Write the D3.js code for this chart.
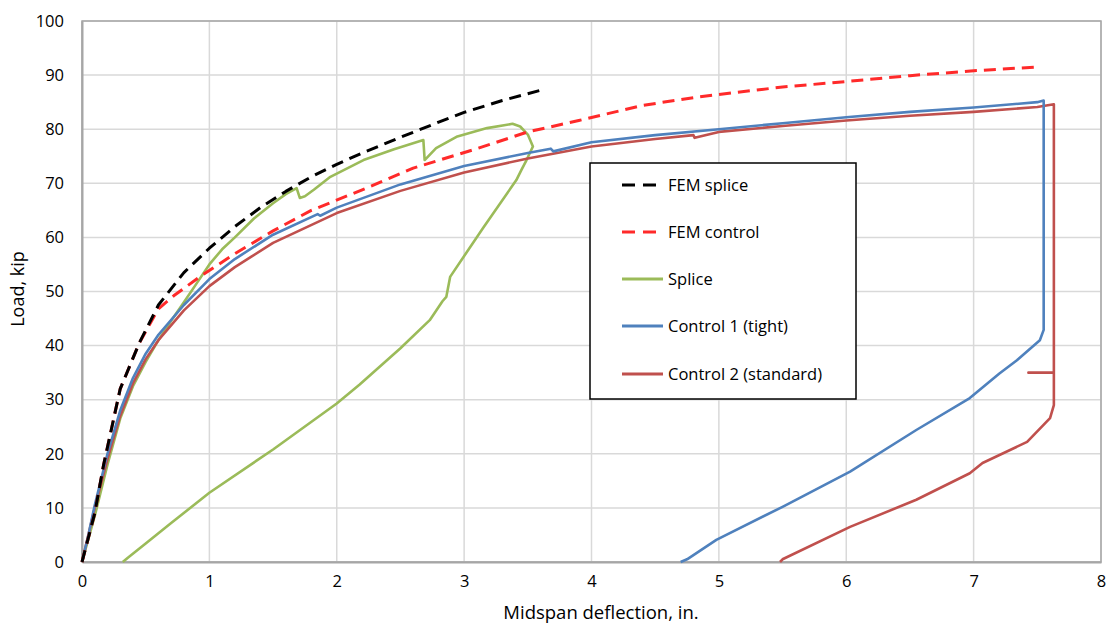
<!DOCTYPE html>
<html>
<head>
<meta charset="utf-8">
<script src="https://cdn.jsdelivr.net/npm/d3@7"></script>
<style>
  body { margin: 0; background: #fff; }
  text { font-family: "Open Sans", sans-serif; }
</style>
</head>
<body>
<svg width="1109" height="625"></svg>
<script>
// data: [deflection in., load kip]
const femSplice = [[0,0],[0.1,9],[0.17,18],[0.3,32],[0.45,40.5],[0.6,47.5],[0.8,53.5],[1.0,58],[1.2,62],
  [1.4,65.5],[1.6,68.5],[1.8,71.2],[2.0,73.5],[2.2,75.6],[2.5,78.5],[2.8,81.3],[3.0,83.1],[3.3,85.3],[3.6,87.2]];

const femControl = [[0,0],[0.1,9],[0.17,18],[0.3,32],[0.45,40.5],[0.6,46.8],[0.72,49.2],[0.93,52.8],[1.2,57],
  [1.5,61.2],[1.8,65],[2.2,68.8],[2.6,72.8],[3.1,76.4],[3.5,79.5],[3.9,81.6],[4.4,84.4],[4.85,86],[5.5,87.8],
  [6.0,88.8],[6.5,89.9],[7.0,90.8],[7.5,91.5]];

const splice = [[0,0],[0.1,8.5],[0.2,18],[0.3,26.5],[0.4,32.5],[0.5,37],[0.6,41],[0.7,44.6],[0.8,48],
  [0.9,51.5],[1.0,55],[1.1,57.8],[1.2,60],[1.35,63.5],[1.5,66.3],[1.6,68],[1.685,69.1],[1.71,67.3],
  [1.75,67.6],[1.82,68.8],[1.95,71.2],[2.21,74.3],[2.45,76.3],[2.68,78],[2.69,74.3],[2.78,76.5],[2.94,78.6],
  [3.18,80.2],[3.38,81],[3.44,80.5],[3.5,79],[3.54,76.8],[3.49,74.3],[3.45,72.5],[3.41,70.6],[3.15,61.8],
  [2.89,52.7],[2.86,49],[2.83,48.2],[2.73,44.7],[2.5,39.5],[2.18,32.8],[2.0,29.3],[1.5,20.8],[1.0,12.8],
  [0.7,7.2],[0.5,3.4],[0.36,0.8],[0.32,0]];

const control1 = [[0,0],[0.05,5],[0.1,10.5],[0.2,20],[0.3,28],[0.4,34],[0.5,38.5],[0.6,42],[0.8,47.5],
  [1.0,52.3],[1.2,56],[1.5,60.5],[1.85,64.3],[1.87,64],[2.0,65.5],[2.5,69.8],[3.0,73.2],[3.5,75.6],
  [3.68,76.4],[3.7,75.9],[4.0,77.6],[4.5,78.9],[5.0,80],[5.5,81.1],[6.0,82.2],[6.5,83.2],[7.0,84],[7.5,85],
  [7.55,85.3],[7.55,42.9],[7.52,41],[7.34,37.3],[7.2,34.8],[6.97,30.3],[6.55,24.4],[6.03,16.7],[5.5,10.2],
  [4.98,4.1],[4.75,0.5],[4.7,0]];

const control2 = [[0,0],[0.1,10],[0.2,19],[0.3,27],[0.4,33],[0.5,37.5],[0.6,41],[0.8,46.5],[1.0,51],
  [1.2,54.5],[1.5,59],[2.0,64.5],[2.5,68.6],[3.0,72],[3.5,74.6],[4.0,76.8],[4.5,78.2],[4.8,78.9],[4.81,78.4],
  [5.0,79.5],[5.5,80.6],[6.0,81.6],[6.5,82.5],[7.0,83.2],[7.5,84.1],[7.63,84.6],[7.63,35],[7.43,35],[7.63,35],
  [7.63,29],[7.6,26.6],[7.42,22.2],[7.07,18.3],[6.97,16.4],[6.55,11.5],[6.03,6.5],[5.5,0.5],[5.48,0]];

const seriesNames = ["FEM splice", "FEM control", "Splice", "Control 1 (tight)", "Control 2 (standard)"];
const seriesData = [femSplice, femControl, splice, control1, control2];
const seriesColors = ["#000000", "#ff2a2a", "#9bbb59", "#4f81bd", "#c0504d"];
const seriesDash = ["12,7", "12,7", null, null, null];
const drawOrder = [2, 4, 3, 1, 0];

const xTicks = [0, 1, 2, 3, 4, 5, 6, 7, 8];
const yTicks = [0, 10, 20, 30, 40, 50, 60, 70, 80, 90, 100];

const svg = d3.select("svg");
const plotLeft = 82, plotRight = 1101, plotTop = 21, plotBottom = 562;

const x = d3.scaleLinear().domain([0, 8]).range([plotLeft, plotRight]);
const y = d3.scaleLinear().domain([0, 100]).range([plotBottom, plotTop]);

// gridlines
svg.append("g")
  .selectAll("line")
  .data(xTicks)
  .enter().append("line")
  .attr("x1", d => x(d)).attr("x2", d => x(d))
  .attr("y1", plotTop).attr("y2", plotBottom)
  .attr("stroke", "#d9d9d9").attr("stroke-width", 1.5);

svg.append("g")
  .selectAll("line")
  .data(yTicks)
  .enter().append("line")
  .attr("x1", plotLeft).attr("x2", plotRight)
  .attr("y1", d => y(d)).attr("y2", d => y(d))
  .attr("stroke", "#d9d9d9").attr("stroke-width", 1.5);

// frame
svg.append("rect")
  .attr("x", plotLeft).attr("y", plotTop)
  .attr("width", plotRight - plotLeft).attr("height", plotBottom - plotTop)
  .attr("fill", "none").attr("stroke", "#a6a6a6").attr("stroke-width", 1.5);

// axes
const xAxis = d3.axisBottom(x).tickValues(xTicks).tickSize(0).tickPadding(13);
const gx = svg.append("g").attr("transform", `translate(0,${plotBottom})`).call(xAxis);
gx.select(".domain").attr("stroke", "#a6a6a6").attr("stroke-width", 2);
gx.selectAll("text").attr("font-size", "16.5px").attr("fill", "#000")
  .attr("font-family", "Open Sans, sans-serif");

const yAxis = d3.axisLeft(y).tickValues(yTicks).tickSize(0).tickPadding(18);
const gy = svg.append("g").attr("transform", `translate(${plotLeft},0)`).call(yAxis);
gy.select(".domain").attr("stroke", "#a6a6a6").attr("stroke-width", 2);
gy.selectAll("text").attr("font-size", "16.5px").attr("fill", "#000")
  .attr("font-family", "Open Sans, sans-serif");

// axis titles
svg.append("text")
  .attr("x", 601)
  .attr("y", 619)
  .attr("text-anchor", "middle")
  .attr("font-size", "18.5px")
  .text("Midspan deflection, in.");

svg.append("text")
  .attr("transform", "translate(24,289) rotate(-90)")
  .attr("text-anchor", "middle")
  .attr("font-size", "18px")
  .attr("font-family", "Liberation Sans, Arial, sans-serif")
  .text("Load, kip");

// lines
const line = d3.line().x(d => x(d[0])).y(d => y(d[1]));

drawOrder.forEach(i => {
  svg.append("path")
    .datum(seriesData[i])
    .attr("fill", "none")
    .attr("stroke", seriesColors[i])
    .attr("stroke-width", i < 2 ? 3 : 2.6)
    .attr("stroke-dasharray", seriesDash[i])
    .attr("stroke-linejoin", "round")
    .attr("d", line);
});

// legend
const lg = svg.append("g");
lg.append("rect")
  .attr("x", 590).attr("y", 163)
  .attr("width", 266).attr("height", 236)
  .attr("fill", "#fff").attr("stroke", "#000").attr("stroke-width", 1.5);

const legendY = [185, 232, 279, 326, 374];
seriesNames.forEach((name, i) => {
  lg.append("line")
    .attr("x1", 622).attr("x2", 663)
    .attr("y1", legendY[i]).attr("y2", legendY[i])
    .attr("stroke", seriesColors[i])
    .attr("stroke-width", 3)
    .attr("stroke-dasharray", seriesDash[i] ? "13,8" : null);
  lg.append("text")
    .attr("x", 668).attr("y", legendY[i] + 6)
    .attr("font-size", "16.5px")
    .text(name);
});
</script>
</body>
</html>
